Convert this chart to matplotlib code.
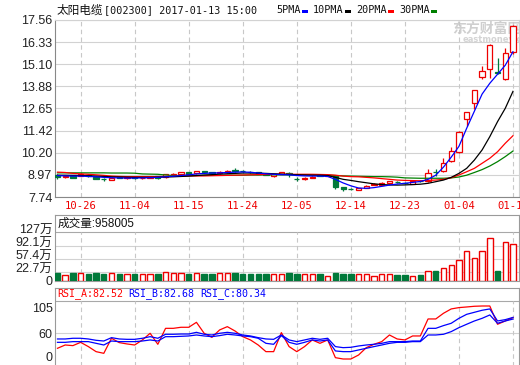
import numpy as np
import matplotlib
matplotlib.use('Agg')
import matplotlib.pyplot as plt
from matplotlib.patches import Rectangle
from matplotlib.transforms import ScaledTranslation

# daily K-line, 2016-10-21 .. 2017-01-13
opens = [8.98, 8.83, 8.96, 8.90, 8.98, 8.86, 8.76, 8.70, 8.86, 8.78,
         8.84, 8.78, 8.80, 8.88, 8.84, 8.97, 9.00, 9.10, 9.05, 9.18,
         9.10, 9.06, 9.10, 9.22, 9.18, 9.14, 9.10, 9.02, 8.88, 9.02,
         9.06, 8.76, 8.76, 8.82, 8.96, 8.90, 8.91, 8.28, 8.18, 8.15,
         8.26, 8.43, 8.41, 8.50, 8.57, 8.52, 8.45, 8.64, 8.64, 9.15,
         9.18, 9.72, 10.25, 12.05, 12.94, 14.42, 14.84, 14.66, 14.29, 15.77]
highs = [9.00, 8.92, 8.98, 9.06, 9.00, 8.88, 8.80, 8.86, 8.88, 8.86,
         8.86, 8.84, 8.88, 8.90, 9.02, 9.05, 9.12, 9.12, 9.20, 9.20,
         9.14, 9.18, 9.22, 9.37, 9.25, 9.18, 9.12, 9.06, 9.02, 9.15,
         9.14, 8.86, 8.84, 8.90, 8.98, 8.98, 8.93, 8.30, 8.22, 8.26,
         8.40, 8.52, 8.55, 8.62, 8.62, 8.58, 8.64, 8.68, 9.29, 9.29,
         9.89, 10.50, 11.40, 12.46, 13.70, 15.03, 16.22, 15.47, 15.99, 17.30]
lows = [8.72, 8.80, 8.80, 8.88, 8.86, 8.72, 8.60, 8.68, 8.78, 8.76,
        8.76, 8.76, 8.79, 8.76, 8.82, 8.95, 8.98, 9.00, 9.03, 9.08,
        9.03, 9.04, 9.08, 9.15, 9.10, 9.06, 9.00, 8.96, 8.86, 9.00,
        8.87, 8.64, 8.70, 8.80, 8.88, 8.88, 8.18, 8.07, 8.14, 8.13,
        8.24, 8.38, 8.40, 8.48, 8.50, 8.46, 8.44, 8.56, 8.59, 8.89,
        9.15, 9.70, 10.20, 11.70, 12.61, 14.29, 14.33, 14.56, 14.24, 15.70]
closes = [8.83, 8.88, 8.82, 9.03, 8.90, 8.74, 8.72, 8.82, 8.80, 8.84,
          8.79, 8.82, 8.86, 8.78, 9.00, 9.03, 9.10, 9.02, 9.18, 9.10,
          9.06, 9.15, 9.20, 9.20, 9.16, 9.10, 9.02, 8.98, 9.00, 9.13,
          9.03, 8.73, 8.80, 8.87, 8.92, 8.95, 8.28, 8.18, 8.16, 8.24,
          8.37, 8.46, 8.53, 8.60, 8.55, 8.50, 8.61, 8.60, 9.07, 9.12,
          9.61, 10.29, 11.35, 12.44, 13.66, 14.73, 16.17, 14.60, 15.71, 17.23]
# volume, in 万 shares
vols = [19.4, 15.0, 19.4, 19.4, 17.6, 19.4, 15.9, 19.4, 15.9, 15.9,
        15.9, 15.9, 15.9, 15.9, 22.0, 19.4, 19.4, 15.9, 19.4, 15.9,
        15.9, 19.4, 19.4, 19.4, 15.9, 15.9, 15.9, 16.0, 16.0, 17.6,
        19.4, 16.0, 16.0, 16.0, 16.0, 13.0, 19.4, 16.0, 16.0, 16.0,
        16.0, 13.0, 16.0, 16.0, 14.0, 14.0, 13.0, 14.0, 26.0, 24.0,
        33.5, 42.0, 55.0, 78.0, 60.0, 78.0, 113.0, 24.0, 102.0, 95.8]
vol_up = [0, 1, 0, 1, 0, 0, 0, 1, 0, 1, 0, 1, 1, 0, 1, 1, 1, 0, 1, 0,
          0, 1, 1, 0, 0, 0, 0, 0, 1, 1, 0, 0, 1, 1, 0, 1, 0, 0, 0, 1,
          1, 1, 1, 1, 0, 0, 1, 0, 1, 0, 1, 1, 1, 1, 1, 1, 1, 0, 1, 1]

ma5 = [8.93, 8.91, 8.90, 8.90, 8.88, 8.86, 8.83, 8.81, 8.80, 8.79,
       8.79, 8.80, 8.81, 8.83, 8.86, 8.89, 8.93, 8.97, 9.02, 9.05,
       9.07, 9.08, 9.10, 9.12, 9.13, 9.11, 9.07, 9.03, 9.00, 8.98,
       8.97, 8.93, 8.91, 8.90, 8.90, 8.88, 8.72, 8.52, 8.36, 8.24,
       8.22, 8.26, 8.33, 8.40, 8.46, 8.50, 8.55, 8.60, 8.72, 8.95,
       9.40, 9.95, 10.55, 11.55, 12.50, 13.45, 14.05, 14.55, 15.05, 15.80]
ma10 = [8.95, 8.95, 8.94, 8.93, 8.92, 8.90, 8.88, 8.86, 8.85, 8.84,
        8.83, 8.83, 8.83, 8.84, 8.85, 8.86, 8.88, 8.90, 8.93, 8.96,
        8.98, 9.01, 9.03, 9.05, 9.07, 9.07, 9.06, 9.05, 9.03, 9.01,
        8.99, 8.97, 8.96, 8.95, 8.95, 8.93, 8.83, 8.72, 8.66, 8.59,
        8.53, 8.47, 8.43, 8.41, 8.40, 8.41, 8.43, 8.45, 8.50, 8.59,
        8.68, 8.83, 9.05, 9.33, 9.79, 10.35, 11.09, 11.92, 12.66, 13.60]
ma20 = [9.12, 9.10, 9.05, 9.02, 9.00, 8.97, 8.94, 8.90, 8.88, 8.87,
        8.87, 8.87, 8.87, 8.87, 8.88, 8.89, 8.90, 8.91, 8.91, 8.91,
        8.92, 8.93, 8.94, 8.95, 8.96, 8.97, 8.98, 8.99, 9.00, 9.00,
        9.00, 9.00, 9.00, 9.00, 8.99, 8.98, 8.95, 8.90, 8.87, 8.86,
        8.83, 8.80, 8.76, 8.72, 8.68, 8.66, 8.65, 8.64, 8.66, 8.68,
        8.72, 8.81, 8.96, 9.14, 9.33, 9.61, 9.89, 10.25, 10.72, 11.14]
ma30 = [9.08, 9.08, 9.08, 9.08, 9.08, 9.08, 9.08, 9.07, 9.07, 9.07,
        9.06, 9.02, 9.01, 9.00, 8.96, 8.93, 8.93, 8.93, 8.93, 8.94,
        8.94, 8.94, 8.95, 8.95, 8.95, 8.96, 8.96, 8.97, 8.97, 8.97,
        8.97, 8.97, 8.97, 8.97, 8.96, 8.96, 8.93, 8.91, 8.90, 8.89,
        8.88, 8.87, 8.87, 8.86, 8.84, 8.80, 8.79, 8.78, 8.78, 8.78,
        8.78, 8.80, 8.85, 8.95, 9.10, 9.26, 9.46, 9.70, 9.98, 10.29]

rsi_a = [38.6, 43.3, 42.4, 47.1, 41.0, 33.8, 31.4, 52.9, 46.7, 44.8,
         43.3, 50.5, 60.0, 44.3, 67.1, 67.1, 68.6, 68.6, 75.7, 60.0,
         54.3, 64.8, 69.5, 63.3, 55.2, 50.5, 43.3, 33.8, 33.8, 61.0,
         41.0, 33.8, 41.0, 50.5, 45.7, 50.5, 25.2, 23.3, 23.3, 29.0,
         39.5, 44.3, 48.1, 57.6, 51.9, 50.5, 56.2, 56.2, 80.5, 80.5,
         88.6, 94.8, 96.7, 97.6, 98.6, 99.0, 99.0, 72.9, 77.6, 82.52]
rsi_b = [51.9, 51.9, 52.9, 52.9, 51.9, 50.0, 49.0, 53.8, 51.9, 51.4,
         51.4, 52.9, 55.2, 52.9, 58.6, 58.6, 59.0, 59.0, 61.4, 58.6,
         57.6, 60.0, 61.4, 60.0, 57.6, 56.2, 53.8, 51.9, 51.4, 57.6,
         50.5, 48.1, 50.5, 52.9, 51.4, 52.9, 41.0, 39.5, 40.0, 41.9,
         43.3, 44.3, 45.7, 48.1, 48.1, 48.1, 49.0, 49.0, 67.1, 67.1,
         71.0, 74.3, 81.4, 87.1, 90.0, 92.9, 94.8, 77.6, 79.5, 82.68]
rsi_c = [47.1, 47.1, 48.1, 48.1, 48.1, 45.7, 43.3, 49.0, 48.1, 48.1,
         48.1, 49.0, 50.5, 49.0, 55.2, 55.2, 55.7, 56.2, 57.6, 56.2,
         55.2, 56.7, 58.6, 57.6, 56.2, 55.2, 52.9, 45.7, 44.3, 56.7,
         47.1, 44.3, 47.1, 50.5, 49.0, 50.5, 34.8, 33.8, 33.8, 36.2,
         38.6, 41.0, 43.3, 45.7, 47.1, 47.1, 48.1, 48.1, 57.6, 57.6,
         58.6, 62.4, 68.1, 72.9, 77.6, 81.4, 86.2, 74.3, 77.6, 80.34]

date_idx = [3, 10, 17, 24, 31, 38, 45, 52, 59]
date_labels = ['10-26', '11-04', '11-15', '11-24', '12-05', '12-14', '12-23', '01-04', '01-13']
price_ticks = [7.74, 8.97, 10.20, 11.42, 12.65, 13.88, 15.10, 16.33, 17.56]
vol_ticks = [0, 22.7, 57.4, 92.1, 127]
vol_labels = ['0', '22.7万', '57.4万', '92.1万', '127万']

RED = '#ee0000'
GREEN = '#00793a'
GRID = '#d2d2d2'
EDGE = '#9a9a9a'
MONO = 'DejaVu Sans Mono'
SANS = ['Liberation Sans', 'Noto Sans CJK SC']

W, H = 520, 365
fig = plt.figure(figsize=(W / 100, H / 100), dpi=100)


def box(l, t, r, b):
    return [l / W, 1 - b / H, (r - l) / W, (b - t) / H]


ax1 = fig.add_axes(box(55, 20, 519, 197))
ax2 = fig.add_axes(box(55, 215, 519, 280.5))
ax3 = fig.add_axes(box(55, 288, 519, 366))

x = np.arange(len(closes))
o = np.array(opens)
c = np.array(closes)
up = c >= o
xlim = (-0.32, 59.78)

# ---- price panel
ax1.vlines(x, lows, highs, colors=[RED if u else GREEN for u in up], lw=0.9, zorder=2)
ax1.bar(x, np.abs(c - o), bottom=np.minimum(o, c), width=0.68,
        color=['white' if u else GREEN for u in up],
        edgecolor=[RED if u else GREEN for u in up], linewidth=0.9, zorder=3)
ax1.plot(x, ma30, color='#008000', lw=0.9, zorder=4)
ax1.plot(x, ma20, color='#ff0000', lw=0.9, zorder=4)
ax1.plot(x, ma10, color='#000000', lw=0.9, zorder=4)
ax1.plot(x, ma5, color='#0000ff', lw=0.9, zorder=4)
ax1.set_xlim(*xlim)
ax1.set_ylim(7.74, 17.56)
ax1.set_yticks(price_ticks)
ax1.set_yticklabels(['%.2f' % v for v in price_ticks], family='Liberation Sans', fontsize=9, color='#222222')
ax1.set_xticks(date_idx)
ax1.set_xticklabels(date_labels, family=MONO, fontsize=7.6, color=RED)
ax1.tick_params(length=0, pad=2)
ax1.tick_params(axis='x', pad=3)
ax1.grid(axis='y', color=GRID, lw=0.8)
for xi in date_idx:
    ax1.axvline(xi, color='#c8c8c8', lw=0.8, ls=(0, (4, 3)), zorder=1)
ax1.set_axisbelow(True)
for s in ['top', 'right']:
    ax1.spines[s].set_color(GRID)
for s in ['left', 'bottom']:
    ax1.spines[s].set_color('#888888')
ax1.text(452 / W, 1 - 29 / H, '东方财富网', transform=fig.transFigure, family='Noto Sans CJK SC',
         fontsize=10, weight='bold', color='#cfcfcf', va='center', zorder=0.5, clip_on=False)
ax1.text(463 / W, 1 - 40 / H, 'eastmoney.com', transform=fig.transFigure, family='DejaVu Sans',
         fontsize=6, weight='bold', color='#d4d4d4', va='center', zorder=0.5, clip_on=False)

# ---- volume panel
ax2.bar(x, vols, width=0.7, color=['white' if u else GREEN for u in vol_up],
        edgecolor=[RED if u else GREEN for u in vol_up], linewidth=1.0, zorder=3)
ax2.set_xlim(*xlim)
ax2.set_ylim(0, 173.3)
ax2.set_yticks(vol_ticks)
ax2.set_yticklabels(vol_labels, family=SANS, fontsize=9, color='#222222')
ax2.set_xticks([])
ax2.tick_params(length=0, pad=2)
# labels sit a little above their grid lines, as in the original
lift = ScaledTranslation(0, 0.035, fig.dpi_scale_trans)
for lab in ax2.get_yticklabels()[1:]:
    lab.set_transform(lab.get_transform() + lift)
for v in vol_ticks[1:-1]:
    ax2.axhline(v, color=GRID, lw=0.8, zorder=1)
ax2.axhline(127, color='#a8a8a8', lw=0.8, zorder=1)
ax2.vlines(date_idx, 0, 127, colors='#c8c8c8', lw=0.8, linestyles=(0, (4, 3)), zorder=1)
for s in ax2.spines.values():
    s.set_color(EDGE)
ax2.text(3 / 464, 1 - 8.5 / 65.5, '成交量:958005', transform=ax2.transAxes, family=SANS,
         fontsize=8.4, va='center', color='#111111')

# ---- RSI panel
ax3.plot(x, rsi_a, color='#ff0000', lw=0.9, zorder=3)
ax3.plot(x, rsi_c, color='#0000ff', lw=0.9, zorder=3)
ax3.plot(x, rsi_b, color='#0000ff', lw=0.9, zorder=3)
ax3.set_xlim(*xlim)
ax3.set_ylim(13.3, 124.7)
ax3.set_yticks([60])
ax3.set_yticklabels(['60'], family='Liberation Sans', fontsize=9, color='#222222')
ax3.set_xticks([])
ax3.tick_params(length=0, pad=2)
ax3.axhline(60, color=GRID, lw=0.8, zorder=1)
ax3.axhline(106.1, color='#a8a8a8', lw=0.8, zorder=1)
ax3.vlines(date_idx, 13.3, 106.1, colors='#c8c8c8', lw=0.8, linestyles=(0, (4, 3)), zorder=1)
ax3.text(-2 / 464, 1 - 21 / 78, '105', transform=ax3.transAxes, ha='right', va='center',
         family='Liberation Sans', fontsize=9, color='#222222')
ax3.text(-2 / 464, 1 - 69.5 / 78, '0', transform=ax3.transAxes, ha='right', va='center',
         family='Liberation Sans', fontsize=9, color='#222222')
for s in ax3.spines.values():
    s.set_color(EDGE)
ax3.spines['bottom'].set_visible(False)
fig.text(57 / W, 1 - 294 / H, 'RSI_A:82.52', family=MONO, fontsize=7.2, color='#ff0000', va='center')
fig.text(128 / W, 1 - 294 / H, 'RSI_B:82.68', family=MONO, fontsize=7.2, color='#0000ff', va='center')
fig.text(200 / W, 1 - 294 / H, 'RSI_C:80.34', family=MONO, fontsize=7.2, color='#0000ff', va='center')

# ---- header
fig.text(57 / W, 1 - 10 / H, '太阳电缆', family='Noto Sans CJK SC', fontsize=8.4, va='center', color='#111111')
fig.text(104 / W, 1 - 10 / H, '[002300] 2017-01-13 15:00', family=MONO, fontsize=7.3, va='center', color='#111111')
legend = [('5PMA', 276, 302, '#0000ff'), ('10PMA', 313, 345, '#000000'),
          ('20PMA', 356, 388, '#ff0000'), ('30PMA', 399, 431, '#008000')]
for name, tx, rx, col in legend:
    fig.text(tx / W, 1 - 10 / H, name, family=MONO, fontsize=7.3, va='center', color='#111111')
    fig.add_artist(Rectangle((rx / W, 1 - 12.5 / H), 5.5 / W, 2.5 / H, transform=fig.transFigure,
                             color=col, lw=0))

fig.savefig('out.png', dpi=100)
